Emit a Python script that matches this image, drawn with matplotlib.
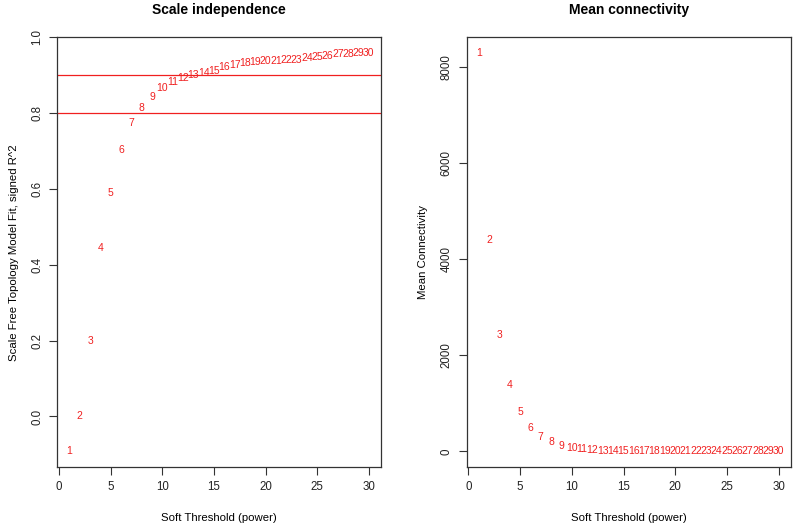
import matplotlib
matplotlib.use("Agg")
import matplotlib.pyplot as plt

plt.rcParams['font.family'] = ['Liberation Sans', 'DejaVu Sans']

powers = list(range(1, 31))
# signed R^2 of the scale free fit
sft_r2 = [-0.092, 0.002, 0.20, 0.445, 0.589, 0.702, 0.774, 0.813, 0.843, 0.865,
          0.883, 0.893, 0.900, 0.907, 0.911, 0.921, 0.927, 0.932, 0.936, 0.937,
          0.938, 0.939, 0.941, 0.945, 0.948, 0.950, 0.955, 0.956, 0.958, 0.958]
mean_k = [8282, 4399, 2422, 1386, 822, 488, 292, 188, 119, 71,
          42, 25, 15, 10, 7, 5, 4, 3, 2, 2,
          1, 1, 1, 1, 1, 1, 0, 0, 0, 0]
cutoffs = [0.90, 0.80]


def r_range(vals):
    lo, hi = min(vals), max(vals)
    ext = (hi - lo) * 0.04
    return lo - ext, hi + ext


def style_axes(ax):
    for s in ax.spines.values():
        s.set_color("#333333")
        s.set_linewidth(0.9)
    ax.tick_params(axis="both", length=6, width=0.8, color="#333333",
                   labelsize=8.3, labelcolor="#222222", pad=4)
    for lab in ax.get_yticklabels():
        lab.set_rotation(90)
        lab.set_va("center")


fig = plt.figure(figsize=(7.95, 5.26), dpi=100)
ax1 = fig.add_axes([0.0723, 0.1116, 0.4066, 0.8175])
ax2 = fig.add_axes([0.587, 0.1116, 0.4076, 0.8175])

# left panel
for p, v in zip(powers, sft_r2):
    ax1.text(p, v, str(p), color="#f02020", ha="center", va="center", fontsize=7.5)
for c in cutoffs:
    ax1.axhline(c, color="#f02020", linewidth=0.9)
ax1.set_xlim(*r_range(powers))
ax1.set_ylim(*r_range(sft_r2))
ax1.set_xticks(range(0, 31, 5))
ax1.set_yticks([0.0, 0.2, 0.4, 0.6, 0.8, 1.0])
ax1.set_yticklabels(["0.0", "0.2", "0.4", "0.6", "0.8", "1.0"])
ax1.set_title("Scale independence", fontsize=10, fontweight="bold", pad=17)
ax1.set_xlabel("Soft Threshold (power)", fontsize=8.2, labelpad=14)
ax1.set_ylabel("Scale Free Topology Model Fit, signed R^2", fontsize=8.2, labelpad=9)
style_axes(ax1)

# right panel
for p, v in zip(powers, mean_k):
    ax2.text(p, v, str(p), color="#f02020", ha="center", va="center", fontsize=7.5)
ax2.set_xlim(*r_range(powers))
ax2.set_ylim(*r_range(mean_k))
ax2.set_xticks(range(0, 31, 5))
ax2.set_yticks([0, 2000, 4000, 6000, 8000])
ax2.set_yticklabels(["0", "2000", "4000", "6000", "8000"])
ax2.set_title("Mean connectivity", fontsize=10, fontweight="bold", pad=17)
ax2.set_xlabel("Soft Threshold (power)", fontsize=8.2, labelpad=14)
ax2.set_ylabel("Mean Connectivity", fontsize=8.2, labelpad=9)
style_axes(ax2)

fig.savefig("out.png", dpi=100, facecolor="white")
plt.close(fig)
